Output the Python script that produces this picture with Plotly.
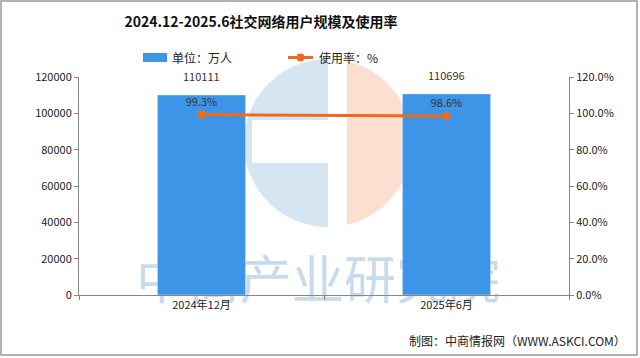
import numpy as np
import plotly.graph_objects as go

categories = ["2024年12月", "2025年6月"]
users = [110111, 110696]
rate = [99.3, 98.6]
left_ticks = [0, 20000, 40000, 60000, 80000, 100000, 120000]
right_ticks = [0, 20, 40, 60, 80, 100, 120]
right_labels = [f"{v:.1f}%" for v in right_ticks]
bar_name = "单位：万人"
line_name = "使用率：%"

W, H = 640, 358
ML, MR, MT, MB = 79, 71, 77, 63
PW, PH = W - ML - MR, H - MT - MB

def px(x, y):
    return (x - ML) / PW, (H - MB - y) / PH

def path_from(points):
    s = ""
    for i, (x, y) in enumerate(points):
        u, v = px(x, y)
        s += ("M" if i == 0 else "L") + f"{u:.4f},{v:.4f} "
    return s + "Z"

cx, cy, r = 328, 143, 84
ang = np.linspace(np.pi / 2, 3 * np.pi / 2, 60)
blue_pts = [(cx + r * np.cos(a), cy - r * np.sin(a)) for a in ang]
x0 = 347
am = np.arccos((x0 - cx) / r)
ang2 = np.linspace(am, -am, 60)
orange_pts = [(cx + r * np.cos(a), cy - r * np.sin(a)) for a in ang2]

BAR_C = "#3c95e6"
LINE_C = "#f06a1e"

fig = go.Figure()
fig.add_trace(go.Bar(
    x=categories, y=users, name=bar_name,
    marker=dict(color=BAR_C), width=0.36,
    showlegend=False,
))
fig.add_trace(go.Scatter(
    x=categories, y=rate, name=line_name, yaxis="y2",
    mode="lines+markers+text",
    line=dict(color=LINE_C, width=3),
    marker=dict(color=LINE_C, size=8),
    text=[f"{v:.1f}%" for v in rate], textposition="top center",
    textfont=dict(size=11, color="#333333"), cliponaxis=False,
    showlegend=False,
))

def rect(xa, ya, xb, yb, **kw):
    u0, v0 = px(xa, yb)
    u1, v1 = px(xb, ya)
    return dict(type="rect", xref="paper", yref="paper", x0=u0, x1=u1, y0=v0, y1=v1, **kw)

shapes = [
    dict(type="path", xref="paper", yref="paper", path=path_from(blue_pts),
         fillcolor="#d6e5f2", line=dict(width=0), layer="below"),
    rect(252, 120, 329, 163, fillcolor="white", line=dict(width=0), layer="below"),
    dict(type="path", xref="paper", yref="paper", path=path_from(orange_pts),
         fillcolor="#fbe0d2", line=dict(width=0), layer="below"),
    rect(130, 258, 506, 310, fillcolor="rgba(0,0,0,0)", line=dict(width=0), layer="below",
         label=dict(text="中商产业研究院", font=dict(size=52, color="#c8dbee",
                    family="Noto Sans CJK SC"))),
    rect(1, 1, 637, 355, line=dict(color="#9a9a9a", width=1.5),
         fillcolor="rgba(0,0,0,0)", layer="above"),
    # manual legend
    rect(143, 53, 167, 62, fillcolor=BAR_C, line=dict(width=0), layer="above"),
    dict(type="line", xref="paper", yref="paper",
         x0=px(288, 0)[0], x1=px(313, 0)[0], y0=px(0, 57.5)[1], y1=px(0, 57.5)[1],
         line=dict(color=LINE_C, width=3), layer="above"),
    dict(type="circle", xref="paper", yref="paper",
         x0=px(296.5, 0)[0], x1=px(304.5, 0)[0], y0=px(0, 61.5)[1], y1=px(0, 53.5)[1],
         fillcolor=LINE_C, line=dict(width=0), layer="above"),
]

annotations = [
    dict(text="制图：中商情报网（WWW.ASKCI.COM）", xref="paper", yref="paper",
         x=px(628, 0)[0], y=px(0, 340)[1], xanchor="right", yanchor="middle",
         showarrow=False, font=dict(size=12, color="#222222")),
    dict(text=bar_name, xref="paper", yref="paper",
         x=px(170, 0)[0], y=px(0, 57.5)[1], xanchor="left", yanchor="middle",
         showarrow=False, font=dict(size=12, color="#222222")),
    dict(text=line_name, xref="paper", yref="paper",
         x=px(317, 0)[0], y=px(0, 57.5)[1], xanchor="left", yanchor="middle",
         showarrow=False, font=dict(size=12, color="#222222")),
]
for c, v in zip(categories, users):
    annotations.append(dict(text=str(v), x=c, y=v, xref="x", yref="y",
                            xanchor="center", yanchor="bottom", yshift=9,
                            showarrow=False, font=dict(size=11, color="#333333")))

fig.update_layout(
    width=W, height=H,
    margin=dict(l=ML, r=MR, t=MT, b=MB),
    paper_bgcolor="white", plot_bgcolor="white",
    font=dict(family="Noto Sans CJK SC, DejaVu Sans", size=11, color="#222222"),
    title=dict(text="<b>2024.12-2025.6社交网络用户规模及使用率</b>",
               x=261 / W, xanchor="center", xref="container",
               y=1 - 22 / H, yanchor="middle",
               font=dict(size=14, color="#111111", family="Noto Sans CJK SC")),
    showlegend=False,
    xaxis=dict(showline=True, linecolor="#888888", linewidth=1, ticks="outside",
               tickson="boundaries", ticklen=4, tickcolor="#888888",
               tickfont=dict(size=11, color="#222222"), showgrid=False),
    yaxis=dict(range=[0, 120000], tickvals=left_ticks, tickformat="d",
               showline=True, linecolor="#888888", ticks="outside", ticklen=4,
               tickcolor="#888888", showgrid=False, zeroline=False,
               tickfont=dict(size=11, color="#222222")),
    yaxis2=dict(range=[0, 120], tickvals=right_ticks, ticktext=right_labels,
                overlaying="y", side="right",
                showline=True, linecolor="#888888", ticks="outside", ticklen=4,
                tickcolor="#888888", showgrid=False, zeroline=False,
                tickfont=dict(size=11, color="#222222")),
    shapes=shapes,
    annotations=annotations,
)

fig.write_html("out.html", config={"displayModeBar": False},
               post_script="document.body.style.margin='0';")
